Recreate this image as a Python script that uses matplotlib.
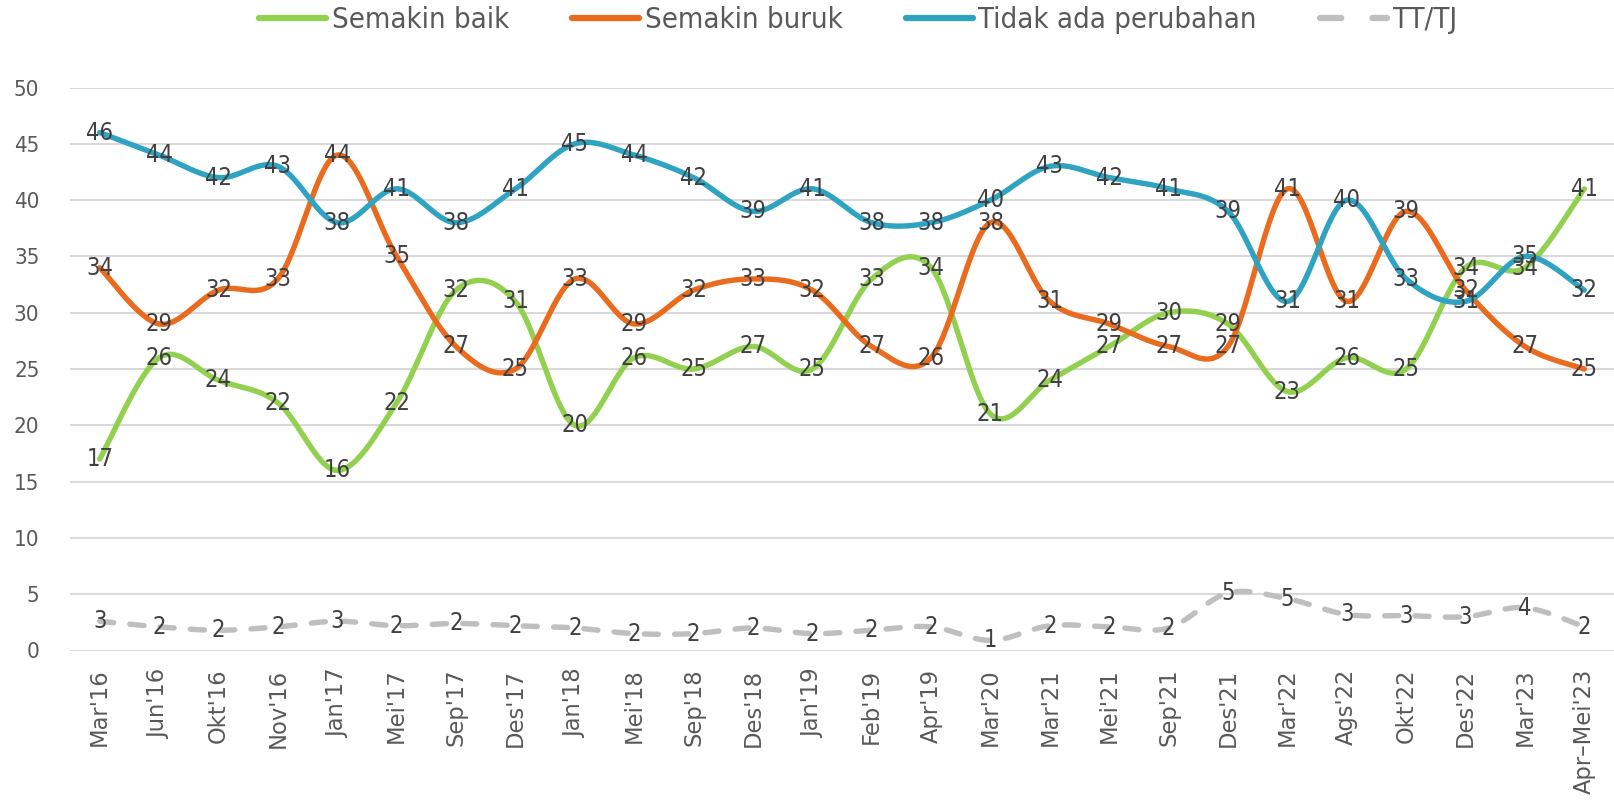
import numpy as np
import matplotlib
matplotlib.use("Agg")
import matplotlib.pyplot as plt
from matplotlib.lines import Line2D
from matplotlib import font_manager as fm

categories = ["Mar'16", "Jun'16", "Okt'16", "Nov'16", "Jan'17", "Mei'17", "Sep'17", "Des'17",
              "Jan'18", "Mei'18", "Sep'18", "Des'18", "Jan'19", "Feb'19", "Apr'19", "Mar'20",
              "Mar'21", "Mei'21", "Sep'21", "Des'21", "Mar'22", "Ags'22", "Okt'22", "Des'22",
              "Mar'23", "Apr\u2013Mei'23"]

semakin_baik = [17, 26, 24, 22, 16, 22, 32, 31, 20, 26, 25, 27, 25, 33, 34, 21, 24, 27, 30, 29,
                23, 26, 25, 34, 34, 41]
semakin_buruk = [34, 29, 32, 33, 44, 35, 27, 25, 33, 29, 32, 33, 32, 27, 26, 38, 31, 29, 27, 27,
                 41, 31, 39, 32, 27, 25]
tidak_ada = [46, 44, 42, 43, 38, 41, 38, 41, 45, 44, 42, 39, 41, 38, 38, 40, 43, 42, 41, 39,
             31, 40, 33, 31, 35, 32]
tt_tj = [2.6, 2.1, 1.8, 2.1, 2.6, 2.2, 2.4, 2.2, 2.0, 1.5, 1.5, 2.0, 1.5, 1.8, 2.1, 0.9,
         2.2, 2.1, 2.0, 5.1, 4.6, 3.2, 3.1, 3.0, 3.8, 2.1]

series_names = ["Semakin baik", "Semakin buruk", "Tidak ada perubahan", "TT/TJ"]
colors = ["#92D050", "#EA6A1E", "#2EA3C2", "#BFBFBF"]

# find a condensed font file if available
cond_path = None
for f in fm.findSystemFonts():
    name = f.lower()
    if "dejavusanscondensed.ttf" in name.replace("-", "").replace("_", ""):
        cond_path = f
        break
if cond_path is None:
    for f in fm.findSystemFonts():
        n = f.lower().replace("-", "").replace("_", "")
        if "condensed" in n and "bold" not in n and "oblique" not in n and "italic" not in n:
            cond_path = f
            break


def cfont(size):
    if cond_path:
        return fm.FontProperties(fname=cond_path, size=size)
    return fm.FontProperties(family="DejaVu Sans", size=size)


def smooth(xs, ys, n=30):
    xs = np.asarray(xs, float)
    ys = np.asarray(ys, float)
    P = np.column_stack([xs, ys])
    out = []
    m = len(P)
    for i in range(m - 1):
        p0 = P[i - 1] if i > 0 else P[i]
        p1 = P[i]
        p2 = P[i + 1]
        p3 = P[i + 2] if i + 2 < m else P[i + 1]
        c1 = p1 + (p2 - p0) / 6.0
        c2 = p2 - (p3 - p1) / 6.0
        t = np.linspace(0, 1, n, endpoint=(i == m - 2))[:, None]
        b = ((1 - t) ** 3) * p1 + 3 * ((1 - t) ** 2) * t * c1 + 3 * (1 - t) * t ** 2 * c2 + t ** 3 * p2
        out.append(b)
    out = np.vstack(out)
    return out[:, 0], out[:, 1]


fig = plt.figure(figsize=(16.14, 8.07), dpi=100)
ax = fig.add_axes([70 / 1614, 156.5 / 807, (1614 - 70) / 1614, (650.5 - 87.5) / 807])

x = np.arange(len(categories))
ax.set_xlim(-0.5, len(categories) - 0.5)
ax.set_ylim(0, 50)
ax.grid(axis="y", color="#D9D9D9", linewidth=1.5)
ax.set_axisbelow(True)
for s in ax.spines.values():
    s.set_visible(False)
ax.tick_params(axis="both", length=0)
ax.set_xticks(x)
ax.set_xticklabels(categories, rotation=90, fontsize=16.3, color="#595959", family="DejaVu Sans")
ax.set_yticks(np.arange(0, 51, 5))
ax.set_yticklabels([str(v) for v in range(0, 51, 5)], fontproperties=cfont(16), color="#595959")
ax.tick_params(axis="y", pad=22)
ax.tick_params(axis="x", pad=13)

all_series = [semakin_baik, semakin_buruk, tidak_ada, tt_tj]
handles = []
for name, vals, col in zip(series_names, all_series, colors):
    sx, sy = smooth(x, vals)
    if name == "TT/TJ":
        ax.plot(sx, sy, color=col, lw=3.9, dashes=(2.6, 3.0), dash_capstyle="round")
        h = Line2D([], [], color=col, lw=4.5, dashes=(3.4, 5.0), dash_capstyle="round", label=name)
    else:
        ax.plot(sx, sy, color=col, lw=3.9, solid_capstyle="round")
        h = Line2D([], [], color=col, lw=4.5, solid_capstyle="round", label=name)
    handles.append(h)
    for xi, v in zip(x, vals):
        ax.text(xi, v, str(int(np.floor(v + 0.5))), ha="center",
                va="center", fontproperties=cfont(17), color="#404040", zorder=5)

leg = fig.legend(handles=handles, loc="center", bbox_to_anchor=(858 / 1614, 1 - 20 / 807), ncol=4,
                 frameon=False, handlelength=2.3, handletextpad=0.2, columnspacing=2.15,
                 prop=cfont(21))
for t in leg.get_texts():
    t.set_color("#595959")

fig.savefig("out.png", dpi=100)
